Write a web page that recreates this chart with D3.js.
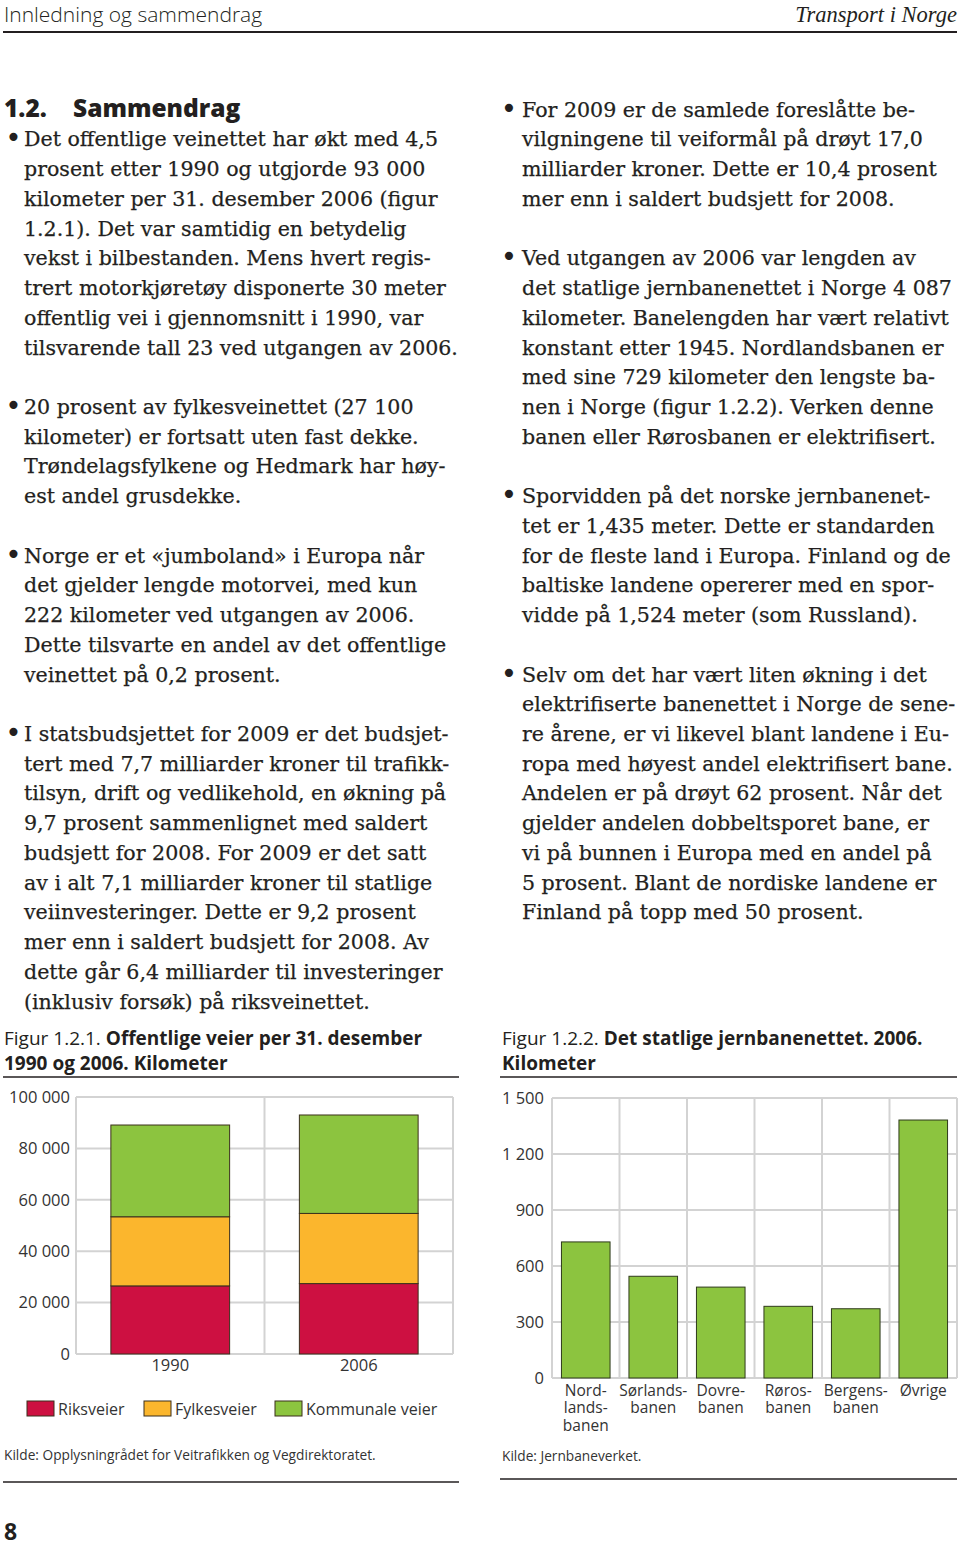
<!DOCTYPE html>
<html><head><meta charset="utf-8">
<script src="https://cdn.jsdelivr.net/npm/d3@7/dist/d3.min.js"></script>
<style>
html,body{margin:0;padding:0;background:#fff;}
svg{display:block;}
</style></head>
<body>
<svg id="page" width="960" height="1545"></svg>
<script>
// ---------- DATA ----------
const roadYears = ["1990", "2006"];
const roadSeriesNames = ["Riksveier", "Fylkesveier", "Kommunale veier"];
const riksveier = [26500, 27400];
const fylkesveier = [26900, 27300];
const kommunaleVeier = [35700, 38300];
const roadTicks = [0, 20000, 40000, 60000, 80000, 100000];

const railCategories = ["Nordlandsbanen", "Sørlandsbanen", "Dovrebanen", "Rørosbanen", "Bergensbanen", "Øvrige"];
const railLabels = [["Nord-", "lands-", "banen"], ["Sørlands-", "banen"], ["Dovre-", "banen"], ["Røros-", "banen"], ["Bergens-", "banen"], ["Øvrige"]];
const railValues = [729, 545, 487, 384, 371, 1382];
const railTicks = [0, 300, 600, 900, 1200, 1500];

// ---------- TEXT ----------
const leftLines = [
  null,
  ["•", "Det offentlige veinettet har økt med 4,5"],
  "prosent etter 1990 og utgjorde 93 000",
  "kilometer per 31. desember 2006 (figur",
  "1.2.1). Det var samtidig en betydelig",
  "vekst i bilbestanden. Mens hvert regis-",
  "trert motorkjøretøy disponerte 30 meter",
  "offentlig vei i gjennomsnitt i 1990, var",
  "tilsvarende tall 23 ved utgangen av 2006.",
  "",
  ["•", "20 prosent av fylkesveinettet (27 100"],
  "kilometer) er fortsatt uten fast dekke.",
  "Trøndelagsfylkene og Hedmark har høy-",
  "est andel grusdekke.",
  "",
  ["•", "Norge er et «jumboland» i Europa når"],
  "det gjelder lengde motorvei, med kun",
  "222 kilometer ved utgangen av 2006.",
  "Dette tilsvarte en andel av det offentlige",
  "veinettet på 0,2 prosent.",
  "",
  ["•", "I statsbudsjettet for 2009 er det budsjet-"],
  "tert med 7,7 milliarder kroner til trafikk-",
  "tilsyn, drift og vedlikehold, en økning på",
  "9,7 prosent sammenlignet med saldert",
  "budsjett for 2008. For 2009 er det satt",
  "av i alt 7,1 milliarder kroner til statlige",
  "veiinvesteringer. Dette er 9,2 prosent",
  "mer enn i saldert budsjett for 2008. Av",
  "dette går 6,4 milliarder til investeringer",
  "(inklusiv forsøk) på riksveinettet."
];
const rightLines = [
  ["•", "For 2009 er de samlede foreslåtte be-"],
  "vilgningene til veiformål på drøyt 17,0",
  "milliarder kroner. Dette er 10,4 prosent",
  "mer enn i saldert budsjett for 2008.",
  "",
  ["•", "Ved utgangen av 2006 var lengden av"],
  "det statlige jernbanenettet i Norge 4 087",
  "kilometer. Banelengden har vært relativt",
  "konstant etter 1945. Nordlandsbanen er",
  "med sine 729 kilometer den lengste ba-",
  "nen i Norge (figur 1.2.2). Verken denne",
  "banen eller Rørosbanen er elektrifisert.",
  "",
  ["•", "Sporvidden på det norske jernbanenet-"],
  "tet er 1,435 meter. Dette er standarden",
  "for de fleste land i Europa. Finland og de",
  "baltiske landene opererer med en spor-",
  "vidde på 1,524 meter (som Russland).",
  "",
  ["•", "Selv om det har vært liten økning i det"],
  "elektrifiserte banenettet i Norge de sene-",
  "re årene, er vi likevel blant landene i Eu-",
  "ropa med høyest andel elektrifisert bane.",
  "Andelen er på drøyt 62 prosent. Når det",
  "gjelder andelen dobbeltsporet bane, er",
  "vi på bunnen i Europa med en andel på",
  "5 prosent. Blant de nordiske landene er",
  "Finland på topp med 50 prosent."
];

// ---------- PAGE ----------
const svg = d3.select("#page");
const TXT = "#231f20";
const SANS = "'Open Sans', 'Noto Sans', sans-serif";
const SERIF = "'DejaVu Serif', serif";

// header
svg.append("text").attr("x", 4).attr("y", 22).attr("font-family", SANS).attr("font-weight", 300)
  .attr("font-size", 21).attr("fill", TXT).text("Innledning og sammendrag");
svg.append("text").attr("x", 957).attr("y", 22).attr("text-anchor", "end").attr("font-family", "'Liberation Serif', serif")
  .attr("font-style", "italic").attr("font-size", 22.5).attr("fill", TXT).text("Transport i Norge");
svg.append("line").attr("x1", 3).attr("x2", 957).attr("y1", 32).attr("y2", 32).attr("stroke", TXT).attr("stroke-width", 2);

// heading
const head = svg.append("text").attr("y", 117).attr("font-family", SANS).attr("font-weight", 800)
  .attr("font-size", 24.5).attr("fill", TXT);
head.append("tspan").attr("x", 4).text("1.2.");
head.append("tspan").attr("x", 73).text("Sammendrag");

// body text fit
const base0 = 116.7, pitch = 29.73;
const probe = svg.append("text").attr("font-family", SERIF).attr("font-size", 20).text("tilsvarende tall 23 ved utgangen av 2006.");
const w1 = probe.node().getComputedTextLength();
probe.text("ropa med høyest andel elektrifisert bane.");
const w2 = probe.node().getComputedTextLength();
probe.remove();
const fs = 20 * ((430 / w1) + (435 / w2)) / 2;

function drawColumn(lines, bulletX, textX) {
  lines.forEach((ln, i) => {
    if (ln === null || ln === "") return;
    const y = base0 + i * pitch;
    let s = ln;
    if (Array.isArray(ln)) {
      svg.append("text").attr("x", bulletX).attr("y", y + 1).attr("text-anchor", "middle")
        .attr("font-family", "'DejaVu Sans', sans-serif").attr("font-size", fs * 1.35)
        .attr("fill", TXT).text(ln[0]);
      s = ln[1];
    }
    svg.append("text").attr("x", textX).attr("y", y).attr("font-family", SERIF).attr("font-size", fs)
      .attr("fill", TXT).attr("stroke", TXT).attr("stroke-width", 0.25).text(s);
  });
}
drawColumn(leftLines, 13.5, 24);
drawColumn(rightLines, 509, 522);

// page number
svg.append("text").attr("x", 4).attr("y", 1540).attr("font-family", SANS).attr("font-weight", 700)
  .attr("font-size", 23).attr("fill", TXT).text("8");

// ---------- common figure parts ----------
const GRID = "#d3d3d3";
const AX = "#333";
function figTitle(x, y, normal, boldLines, ruleX1, ruleX2, ruleY) {
  const t = svg.append("text").attr("x", x).attr("y", y).attr("font-family", SANS).attr("font-size", 19).attr("fill", TXT);
  t.append("tspan").attr("font-weight", 400).text(normal);
  t.append("tspan").attr("font-weight", 700).text(boldLines[0]);
  if (boldLines[1]) {
    svg.append("text").attr("x", x).attr("y", y + 24.5).attr("font-family", SANS).attr("font-size", 19)
      .attr("font-weight", 700).attr("fill", TXT).text(boldLines[1]);
  }
  svg.append("line").attr("x1", ruleX1).attr("x2", ruleX2).attr("y1", ruleY).attr("y2", ruleY).attr("stroke", TXT).attr("stroke-width", 1.5);
}
const fmt = v => d3.format(",")(v).replace(/,/g, " ");

// ---------- FIGURE 1 ----------
figTitle(4, 1045, "Figur 1.2.1. ", ["Offentlige veier per 31. desember", "1990 og 2006. Kilometer"], 3, 459, 1077);
{
  const x = d3.scaleBand().domain(roadYears).range([76, 453]).padding(0);
  const y = d3.scaleLinear().domain([0, 100000]).range([1354, 1097]);
  const g = svg.append("g");
  g.selectAll(".hg").data(roadTicks).join("line")
    .attr("x1", 76).attr("x2", 453).attr("y1", d => y(d)).attr("y2", d => y(d))
    .attr("stroke", GRID).attr("stroke-width", 2);
  const vx = roadYears.map(d => x(d)).concat([x.range()[1]]);
  g.selectAll(".vg").data(vx).join("line")
    .attr("x1", d => d).attr("x2", d => d).attr("y1", y(100000)).attr("y2", y(0))
    .attr("stroke", GRID).attr("stroke-width", 2);
  const yAxis = d3.axisLeft(y).tickValues(roadTicks).tickFormat(fmt).tickSize(0).tickPadding(6);
  const ya = g.append("g").attr("transform", "translate(76,0)").call(yAxis);
  ya.select(".domain").remove();
  ya.selectAll("text").attr("font-family", SANS).attr("font-size", 16.5).attr("fill", AX);
  const colors = ["#cd1041", "#fbb62d", "#8cc43f"];
  const table = roadYears.map((yr, i) => ({year: yr, Riksveier: riksveier[i], Fylkesveier: fylkesveier[i], "Kommunale veier": kommunaleVeier[i]}));
  const stack = d3.stack().keys(roadSeriesNames)(table);
  const bw = x.bandwidth() * 0.63;
  stack.forEach((layer, li) => {
    g.selectAll(".b" + li).data(layer).join("rect")
      .attr("x", d => x(d.data.year) + (x.bandwidth() - bw) / 2)
      .attr("width", bw)
      .attr("y", d => y(d[1]))
      .attr("height", d => y(d[0]) - y(d[1]))
      .attr("fill", colors[li]).attr("stroke", "#3b2f1c").attr("stroke-width", 1);
  });
  g.selectAll(".xl").data(roadYears).join("text")
    .attr("x", d => x(d) + x.bandwidth() / 2).attr("y", 1371).attr("text-anchor", "middle")
    .attr("font-family", SANS).attr("font-size", 16.5).attr("fill", AX).text(d => d);
  const legX = [27, 144, 275];
  roadSeriesNames.forEach((n, i) => {
    g.append("rect").attr("x", legX[i]).attr("y", 1401).attr("width", 27).attr("height", 15)
      .attr("fill", colors[i]).attr("stroke", "#3b2f1c").attr("stroke-width", 1);
    g.append("text").attr("x", legX[i] + 31).attr("y", 1414.5).attr("font-family", SANS).attr("font-size", 16)
      .attr("fill", AX).text(n);
  });
  svg.append("text").attr("x", 4).attr("y", 1460).attr("font-family", SANS).attr("font-size", 13.7)
    .attr("fill", AX).text("Kilde: Opplysningrådet for Veitrafikken og Vegdirektoratet.");
  svg.append("line").attr("x1", 3).attr("x2", 459).attr("y1", 1482).attr("y2", 1482).attr("stroke", TXT).attr("stroke-width", 1.5);
}

// ---------- FIGURE 2 ----------
figTitle(502, 1045, "Figur 1.2.2. ", ["Det statlige jernbanenettet. 2006.", "Kilometer"], 500, 957, 1077);
{
  const x = d3.scaleBand().domain(railCategories).range([552, 957]).padding(0);
  const y = d3.scaleLinear().domain([0, 1500]).range([1378, 1098]);
  const g = svg.append("g");
  g.selectAll(".hg").data(railTicks).join("line")
    .attr("x1", 552).attr("x2", 957).attr("y1", d => y(d)).attr("y2", d => y(d))
    .attr("stroke", GRID).attr("stroke-width", 2);
  const vx = railCategories.map(d => x(d)).concat([x.range()[1]]);
  g.selectAll(".vg").data(vx).join("line")
    .attr("x1", d => d).attr("x2", d => d).attr("y1", y(1500)).attr("y2", y(0))
    .attr("stroke", GRID).attr("stroke-width", 2);
  const yAxis = d3.axisLeft(y).tickValues(railTicks).tickFormat(fmt).tickSize(0).tickPadding(8);
  const ya = g.append("g").attr("transform", "translate(552,0)").call(yAxis);
  ya.select(".domain").remove();
  ya.selectAll("text").attr("font-family", SANS).attr("font-size", 16.5).attr("fill", AX);
  const bw = x.bandwidth() * 0.72;
  g.selectAll(".bar").data(railValues).join("rect")
    .attr("x", (d, i) => x(railCategories[i]) + (x.bandwidth() - bw) / 2)
    .attr("width", bw)
    .attr("y", d => y(d)).attr("height", d => y(0) - y(d))
    .attr("fill", "#8cc43f").attr("stroke", "#2f3a1c").attr("stroke-width", 1);
  railLabels.forEach((lines, i) => {
    const t = g.append("text").attr("text-anchor", "middle").attr("font-family", SANS).attr("font-size", 15.5).attr("fill", AX);
    lines.forEach((l, k) => {
      t.append("tspan").attr("x", x(railCategories[i]) + x.bandwidth() / 2).attr("y", 1396 + k * 17.3).text(l);
    });
  });
  svg.append("text").attr("x", 502).attr("y", 1461).attr("font-family", SANS).attr("font-size", 13.7)
    .attr("fill", AX).text("Kilde: Jernbaneverket.");
  svg.append("line").attr("x1", 500).attr("x2", 957).attr("y1", 1479).attr("y2", 1479).attr("stroke", TXT).attr("stroke-width", 1.5);
}
</script>
</body></html>
